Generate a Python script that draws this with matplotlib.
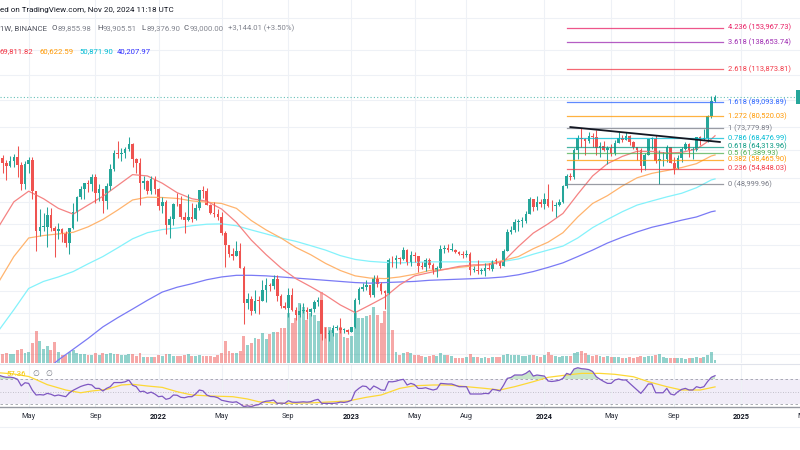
import numpy as np
import pandas as pd
import matplotlib
matplotlib.use('Agg')
import matplotlib.pyplot as plt
import matplotlib.transforms as mtransforms
from matplotlib.patches import Rectangle

plt.rcParams['font.family'] = ['Roboto', 'DejaVu Sans']

# BTCUSDT weekly candles (BINANCE), first bar = week of 2021-03-08
first_week = '2021-03-08'
opens = [50960, 59300, 57350, 55830, 58200, 59750, 56250, 49100, 56600, 58250,
         46430, 34700, 35700, 35800, 39100, 35500, 34700, 35300, 34250, 31800,
         35400, 39850, 44600, 47100, 49300, 48900, 51750, 46000, 47300, 43200,
         48200, 54650, 61500, 60850, 61300, 63300, 65500, 59000, 57300, 49400,
         50100, 46700, 50800, 47300, 41850, 43100, 36300, 37900, 42400, 42200,
         38400, 37700, 38400, 37800, 41260, 46820, 46400, 42150, 39700, 39450,
         38470, 34300, 31300, 29450, 29000, 29900, 26550, 20550, 21050, 19300,
         20850, 20800, 22580, 23300, 23170, 24440, 21500, 20000, 19800, 21800,
         19400, 18800, 19300, 19400, 19200, 19570, 20600, 20900, 16300, 16280,
         16450, 17100, 17100, 16800, 16840, 16600, 17130, 20880, 22700, 23080,
         23300, 21800, 24650, 23500, 22400, 22100, 28000, 27990, 28450, 28300,
         30300, 27600, 29200, 28900, 26800, 26750, 28100, 27100, 25900, 26500,
         30500, 30600, 30300, 30300, 29800, 29300, 29050, 29400, 26100, 26100,
         25850, 25850, 26550, 26250, 27950, 27900, 26850, 29950, 34500, 35000,
         37050, 37350, 37450, 39450, 43800, 41350, 43000, 42280, 43900, 41700,
         41600, 42000, 43000, 48300, 52100, 51700, 63100, 68900, 68400, 67200,
         69650, 69350, 63900, 64900, 63100, 63850, 61500, 66300, 68500, 67750,
         69650, 66650, 64250, 62700, 55850, 60800, 68150, 68250, 58100, 58700,
         58900, 64200, 57300, 54850, 59150, 63350, 65650, 62800, 62850, 69000,
         68000, 68750, 80400, 89855.98]
highs = [61844, 60633, 58420, 60200, 61200, 64854, 57526, 58000, 59600, 59600,
         46600, 40900, 39500, 41330, 41100, 36000, 36700, 35400, 34700, 35400,
         42600, 44800, 48150, 49400, 50500, 52920, 52900, 48850, 47350, 49200,
         56600, 62900, 67000, 63700, 64270, 69000, 66400, 59400, 59200, 51900,
         50300, 51900, 52100, 47550, 44450, 43500, 38900, 42650, 45850, 44750,
         39800, 45400, 42600, 42350, 46950, 48200, 47450, 42450, 42950, 40800,
         40000, 34850, 31300, 30650, 32200, 31750, 26900, 22000, 21550, 22500,
         21600, 24300, 24650, 23650, 25200, 25200, 21900, 20600, 22800, 22800,
         19950, 20400, 20500, 19950, 19700, 21000, 21450, 21000, 17200, 16800,
         17400, 17450, 18400, 17050, 16950, 17200, 21250, 23000, 23800, 24250,
         23450, 25250, 25100, 23900, 22600, 28500, 28850, 29200, 28800, 31000,
         30550, 30050, 29800, 28900, 27650, 28450, 28450, 27400, 26800, 31400,
         31250, 31500, 31800, 30400, 29950, 30000, 30250, 29700, 26800, 28150,
         26400, 27500, 27500, 28050, 28600, 27950, 30400, 35250, 35950, 37950,
         37950, 38400, 40250, 44700, 43850, 44750, 43800, 45900, 48970, 43580,
         42850, 43880, 48600, 52800, 53000, 64000, 70000, 73780, 68900, 71770,
         71300, 72800, 66900, 67200, 64750, 65500, 67700, 71950, 70000, 71950,
         70200, 67200, 64500, 63850, 61400, 68400, 69400, 70080, 62750, 61800,
         65000, 64500, 59800, 60650, 64150, 66500, 66000, 64500, 69400, 69500,
         73600, 81500, 93265, 93905.51]
lows = [49274, 53271, 50427, 55470, 55470, 51541, 47044, 47159, 53000, 43825,
        30000, 33400, 34800, 31000, 34800, 28800, 32700, 32100, 31000, 29300,
        35200, 37300, 43800, 43950, 46300, 46500, 42800, 43400, 39600, 40750,
        46900, 54000, 59500, 58000, 59400, 62300, 55600, 53250, 42000, 47100,
        45500, 45500, 45650, 40600, 39650, 34000, 32900, 36300, 41650, 38000,
        34300, 37450, 37150, 37550, 40500, 44200, 41900, 39200, 38550, 37700,
        33700, 26700, 28650, 28000, 28900, 26500, 17600, 19650, 18800, 19000,
        18900, 20750, 20700, 22400, 22650, 20750, 19800, 19600, 18500, 19300,
        18150, 18500, 19100, 18200, 18650, 19250, 20050, 15600, 15800, 15480,
        16050, 16800, 16500, 16400, 16300, 16550, 17100, 20400, 22300, 22500,
        21400, 21350, 23100, 21950, 19550, 21900, 26600, 26550, 27200, 28000,
        27100, 26950, 27600, 25800, 26350, 25850, 26500, 25350, 24800, 26250,
        29500, 29700, 29950, 29500, 29050, 28600, 28750, 25150, 25800, 25400,
        25350, 24900, 26100, 26000, 27200, 26550, 26800, 29900, 33950, 34500,
        34750, 35650, 36850, 39200, 40200, 40550, 41300, 40750, 41500, 40300,
        38550, 41800, 42500, 47700, 50520, 50900, 59000, 64500, 60780, 66400,
        64500, 60660, 59600, 62400, 56550, 60200, 60750, 66100, 66600, 67600,
        65100, 63400, 58400, 53500, 54260, 60630, 63450, 57100, 49000, 56100,
        57800, 57200, 52550, 54600, 57500, 62700, 59800, 58900, 62450, 65100,
        67450, 66800, 79700, 89376.90]
closes = [59300, 57350, 55830, 58200, 59750, 56250, 49100, 56600, 58250, 46430,
          34700, 35700, 35800, 39100, 35500, 34700, 35300, 34250, 31800, 35400,
          39850, 44600, 47100, 49300, 48900, 51750, 46000, 47300, 43200, 48200,
          54650, 61500, 60850, 61300, 63300, 65500, 59000, 57300, 49400, 50100,
          46700, 50800, 47300, 41850, 43100, 36300, 37900, 42400, 42200, 38400,
          37700, 38400, 37800, 41260, 46820, 46400, 42150, 39700, 39450, 38470,
          34300, 31300, 29450, 29000, 29900, 26550, 20550, 21050, 19300, 20850,
          20800, 22580, 23300, 23170, 24440, 21500, 20000, 19800, 21800, 19400,
          18800, 19300, 19400, 19200, 19570, 20600, 20900, 16300, 16280, 16450,
          17100, 17100, 16800, 16840, 16600, 17130, 20880, 22700, 23080, 23300,
          21800, 24650, 23500, 22400, 22100, 28000, 27990, 28450, 28300, 30300,
          27600, 29200, 28900, 26800, 26750, 28100, 27100, 25900, 26500, 30500,
          30600, 30300, 30300, 29800, 29300, 29050, 29400, 26100, 26100, 25850,
          25850, 26550, 26250, 27950, 27900, 26850, 29950, 34500, 35000, 37050,
          37350, 37450, 39450, 43800, 41350, 43000, 42280, 43900, 41700, 41600,
          42000, 43000, 48300, 52100, 51700, 63100, 68900, 68400, 67200, 69650,
          69350, 63900, 64900, 63100, 63850, 61500, 66300, 68500, 67750, 69650,
          66650, 64250, 62700, 55850, 60800, 68150, 68250, 58100, 58700, 58900,
          64200, 57300, 54850, 59150, 63350, 65650, 62800, 62850, 69000, 68000,
          68750, 80400, 89855.99, 93000.00]
# weekly volume, thousand BTC
volumes = [480, 360, 400, 360, 360, 520, 560, 400, 440, 800,
           1280, 880, 560, 680, 520, 840, 440, 320, 320, 440,
           520, 400, 360, 360, 320, 320, 400, 320, 400, 360,
           400, 360, 360, 320, 320, 360, 360, 280, 400, 240,
           240, 240, 240, 320, 280, 360, 360, 280, 280, 280,
           320, 360, 280, 280, 320, 280, 280, 280, 240, 320,
           400, 880, 480, 400, 400, 480, 1080, 720, 800, 1000,
           960, 1200, 960, 1160, 1240, 1240, 1400, 1400, 2000, 1600,
           1800, 2400, 2240, 1720, 2000, 1920, 1680, 2840, 1440, 1440,
           1320, 1200, 1440, 1040, 1000, 1080, 2000, 1800, 1800, 1880,
           1920, 2240, 1920, 1600, 2080, 4040, 1320, 440, 320, 400,
           440, 400, 320, 320, 280, 240, 280, 320, 280, 400,
           320, 320, 280, 200, 200, 200, 240, 360, 240, 240,
           200, 240, 200, 240, 240, 240, 320, 360, 320, 320,
           320, 280, 280, 320, 320, 280, 240, 320, 440, 320,
           280, 240, 280, 280, 280, 400, 440, 480, 400, 320,
           280, 320, 280, 240, 280, 240, 240, 240, 200, 200,
           240, 200, 240, 280, 240, 280, 280, 320, 360, 240,
           200, 200, 200, 200, 200, 160, 200, 200, 240, 200,
           240, 320, 440, 120]

# RSI 14 (one value per week) and its moving average (read at sample weeks)
rsi = [76, 74, 72.7, 73, 72, 69.5, 59, 64, 63, 52,
       44.4, 45, 44.4, 47, 45.6, 43, 44.4, 43, 41.7, 48,
       52, 55, 58, 60, 61.5, 60.5, 55, 55, 50.8, 55,
       57.7, 64.3, 64.3, 64.3, 65.5, 68.4, 60, 57.7, 49.7, 50.5,
       47, 49, 46, 41.7, 42.5, 37.5, 39, 44.4, 44, 40.7,
       40, 41.7, 41.7, 46, 52.4, 51, 44.4, 42, 41.7, 40,
       36, 34.8, 33.5, 32.7, 33.5, 30, 25.7, 27, 25.7, 28,
       29, 32.7, 34.5, 35, 36.4, 31, 31.5, 31, 35.3, 33,
       32.7, 33, 33.5, 33, 33.6, 36, 37.5, 31, 31, 31,
       31, 31.5, 33, 32.5, 33.6, 36, 50, 55, 58.8, 58,
       52.4, 58.8, 56, 52.4, 52, 65.7, 65.5, 66.5, 68.4, 69.5,
       60.4, 63, 61, 55, 55, 56, 54, 52.4, 54, 63,
       62.5, 62, 62, 60, 57.7, 57.7, 57.7, 46, 46, 46,
       46, 47, 46.5, 53.4, 52.5, 50.8, 60, 71, 72.5, 76.4,
       76.4, 76.4, 79, 83.3, 74.7, 76.4, 75.5, 74.7, 66.8, 66,
       66.8, 68, 71, 79, 77, 86, 88, 86.5, 86, 85,
       82, 73.6, 69.5, 66, 63, 63, 68.4, 70, 68.4, 68.4,
       63, 57.7, 52, 47, 54, 62, 62, 48, 48, 48,
       55, 46, 44.4, 49.7, 53.4, 55, 52.4, 52.4, 57.7, 56,
       57.7, 66, 72.7, 75.3]
rsi_ma_weeks = [0, 4, 8, 10, 13, 18, 22, 25, 29, 33, 36, 40, 44, 48, 52, 57, 63, 67, 70, 76,
                85, 90, 94, 99, 103, 108, 112, 117, 121, 126, 131, 135, 139, 144, 148, 153,
                157, 162, 166, 171, 175, 180, 184, 189, 193]
rsi_ma = [80, 78, 74, 69, 61, 52.4, 48, 50.8, 53.4, 60.4, 61.5, 58.8, 56.6, 49.7, 44.4, 42.8,
          41.7, 38, 33.6, 31, 32, 33.6, 34.7, 40.7, 44.4, 55, 59.2, 60.4, 60.4, 57.7, 55,
          52.4, 57.7, 65.7, 72.7, 76.4, 79, 79, 77.5, 73.6, 65.7, 57.7, 52.4, 52.4, 57.36]

# moving averages, read every 4 weeks (+ last bar)
ma_weeks = list(range(0, 193, 4)) + [193]
ma_red = [36000, 43000, 46500, 44000, 41000, 39300, 42000, 44800, 48500, 52500,
          52000, 49300, 46000, 44000, 43200, 40800, 37000, 32500, 29200, 26500,
          24500, 23100, 21700, 20200, 19100, 20200, 21400, 23400, 25000, 25600,
          26200, 26800, 27100, 27100, 27800, 31000, 34200, 36600, 39500, 45500,
          52000, 56900, 60000, 62300, 62200, 61500, 61800, 63300, 68100, 69811.82]
ma_orange = [24000, 28800, 33000, 33600, 34000, 34400, 35800, 37800, 40500, 43600,
             44500, 44400, 44100, 43300, 42900, 42500, 41000, 37500, 35000, 33000,
             30800, 29200, 27400, 26000, 25000, 24600, 24500, 24800, 25300, 26000,
             26200, 26600, 26900, 27300, 28000, 28800, 30500, 32000, 34300, 38500,
             42500, 45000, 48300, 51300, 53000, 54100, 55300, 56900, 60200, 60622.59]
ma_cyan = [16800, 19500, 22800, 24000, 24800, 25800, 27300, 28800, 30700, 32800,
           34300, 35100, 35500, 36100, 36500, 36600, 36100, 35000, 34000, 33000,
           32200, 31200, 30200, 29000, 28200, 27800, 27600, 27500, 27600, 27700,
           27700, 27700, 27700, 27700, 27800, 28300, 29300, 30200, 31100, 33000,
           35600, 37800, 40000, 42000, 43300, 44600, 45800, 47700, 50500, 50871.90]
ma_blue = [np.nan, np.nan, np.nan, 12300, 13500, 14600, 15800, 17200, 18400, 19600,
           20900, 22200, 23000, 23600, 24300, 24800, 25100, 25100, 25000, 24800,
           24600, 24400, 24200, 24000, 23800, 23700, 23800, 23900, 24000, 24200,
           24300, 24400, 24500, 24600, 24800, 25200, 25800, 26600, 27500, 28800,
           30200, 31800, 33200, 34500, 35700, 36600, 37600, 38500, 40000, 40207.97]

# fibonacci extension drawn on the chart
fib_ratios = ['0', '0.236', '0.382', '0.5', '0.618', '0.786', '1', '1.272', '1.618', '2.618', '3.618', '4.236']
fib_prices = [48999.96, 54848.03, 58465.90, 61389.93, 64313.96, 68476.99, 73779.89, 80520.03,
              89093.89, 113873.81, 138653.74, 153967.73]
fib_colors = ['#787b86', '#f23645', '#ff9800', '#4caf50', '#089981', '#00bcd4', '#787b86',
              '#ff9800', '#2962ff', '#f23645', '#9c27b0', '#e91e63']
fib_span = [153.1, 195.1]
trend_weeks = [154.0, 194.3]
trend_prices = [74400, 66700]

tick_dates = ['2021-05-03', '2021-09-06', '2022-01-03', '2022-05-02', '2022-09-05', '2023-01-02',
              '2023-05-01', '2023-08-07', '2024-01-01', '2024-05-06', '2024-09-02', '2025-01-06',
              '2025-05-05']
tick_labels = ['May', 'Sep', '2022', 'May', 'Sep', '2023', 'May', 'Aug', '2024', 'May', 'Sep', '2025', 'May']

grid_prices = [166000, 131000, 109000, 90700, 74400, 62900, 51200, 42900, 36600, 31300,
               26400, 22300, 19100, 16400, 14100]

up_c, dn_c = '#26a69a', '#ef5350'
grid_c = '#eef1f6'

W, H = 800, 450
weeks = np.arange(len(closes))
o = np.array(opens); h = np.array(highs); l = np.array(lows); c = np.array(closes)
up = c >= o
t0 = pd.Timestamp(first_week)
tick_x = [(pd.Timestamp(d) - t0).days / 7 for d in tick_dates]

fig = plt.figure(figsize=(8, 4.5), dpi=100)


def rect(top, bottom):
    return [0, 1 - bottom / H, 1, (bottom - top) / H]


xlim = (0.27, 215.9)
ylim = (13200, 188800)
main_rect = rect(0, 363)

# background grid
bg = fig.add_axes(main_rect, label='bg')
bg.set_yscale('log')
bg.set_xlim(xlim)
bg.set_ylim(ylim)
bg.axis('off')
for p in grid_prices:
    bg.axhline(p, color=grid_c, lw=0.8)
for t in tick_x:
    bg.axvline(t, color=grid_c, lw=0.8)

# volume
vax = fig.add_axes(main_rect, label='vol')
vax.set_xlim(xlim)
vax.set_ylim(0, 363 * 40)
vax.axis('off')
vax.bar(weeks, volumes, width=0.78, color=np.where(up, up_c, dn_c), alpha=0.5, linewidth=0)

# price
ax = fig.add_axes(main_rect, label='price')
ax.set_yscale('log')
ax.set_xlim(xlim)
ax.set_ylim(ylim)
ax.axis('off')

ax.axhline(closes[-1], color=up_c, lw=0.8, ls=(0, (1, 2)), alpha=0.7)

for mw, mv, col in [(ma_weeks, ma_blue, '#7a7af5'), (ma_weeks, ma_cyan, '#84f2fb'),
                    (ma_weeks, ma_orange, '#ffb46e'), (ma_weeks, ma_red, '#f58383')]:
    ax.plot(mw, mv, color=col, lw=0.9)

ccol = np.where(up, up_c, dn_c)
ax.vlines(weeks, l, h, colors=ccol, lw=0.75)
body_lo = np.minimum(o, c)
body_h = np.maximum(np.abs(c - o), body_lo * 0.006)
ax.bar(weeks, body_h, bottom=body_lo, width=0.7, color=ccol, linewidth=0)

for r, p, col in zip(fib_ratios, fib_prices, fib_colors):
    ax.plot(fib_span, [p, p], color=col, lw=0.9, alpha=0.75)
    ax.text(fib_span[1] + 1.4, p, f'{r} ({p:,.2f})', color=col, fontsize=5.4, va='center', ha='left')

ax.plot(trend_weeks, trend_prices, color='#131722', lw=1.3)

# RSI pane
rax = fig.add_axes(rect(364, 407), label='rsi')
rax.set_xlim(xlim)
rax.set_ylim(25.2, 94)
rax.axis('off')
for t in tick_x:
    rax.axvline(t, color=grid_c, lw=0.8)
rax.axhspan(30, 70, color='#7e57c2', alpha=0.1, lw=0)
rax.axhline(70, color='#787b86', lw=0.6, ls=(0, (3, 3)), alpha=0.7)
rax.axhline(50, color='#787b86', lw=0.6, ls=(0, (1, 2)), alpha=0.5)
rax.axhline(30, color='#787b86', lw=0.6, ls=(0, (3, 3)), alpha=0.7)
rv = np.array(rsi)
rax.fill_between(weeks, rv, 70, where=rv >= 70, interpolate=True, color='#4caf50', alpha=0.3, lw=0)
rax.fill_between(weeks, rv, 30, where=rv <= 30, interpolate=True, color='#f23645', alpha=0.2, lw=0)
rax.plot(rsi_ma_weeks, rsi_ma, color='#fdd835', lw=0.9)
rax.plot(weeks, rv, color='#7e57c2', lw=0.9)

# pane borders
fig.add_artist(plt.Line2D([0, 1], [1 - 363.5 / H] * 2, color='#e0e3eb', lw=0.8))
fig.add_artist(plt.Line2D([0, 1], [1 - 407 / H] * 2, color='#9598a1', lw=1.0))
fig.add_artist(plt.Line2D([0, 1], [1 - 427 / H] * 2, color='#eef1f6', lw=0.8))

# time axis labels
tr = mtransforms.blended_transform_factory(rax.transData, fig.transFigure)
for t, lab in zip(tick_x, tick_labels):
    bold = lab.isdigit()
    rax.text(t, 1 - 417 / H, lab, transform=tr, ha='center', va='center', fontsize=5.3,
             color='#131722' if bold else '#2a2e39', fontweight='bold' if bold else 'normal',
             clip_on=False)

# price tag on the right edge
fig.add_artist(Rectangle((796 / W, 1 - 104 / H), 5 / W, 14 / H, transform=fig.transFigure,
                         color=up_c, lw=0))


def ftext(x, y, s, col, size=5.6, **kw):
    fig.text(x / W, 1 - y / H, s, color=col, va='center', ha='left', fontsize=size, **kw)


ftext(0, 10, 'ed on TradingView.com, Nov 20, 2024 11:18 UTC', '#131722', size=5.8)
val_c = '#82858f'
ftext(0, 28, '1W, BINANCE', '#50535e')
for x, letter, v in [(52, 'O', opens[-1]), (97, 'H', highs[-1]), (141, 'L', lows[-1]), (184, 'C', closes[-1])]:
    ftext(x, 28, letter, '#50535e')
    ftext(x + 5.5, 28, f'{v:,.2f}', val_c)
chg = closes[-1] - closes[-2]
ftext(228, 28, f'+{chg:,.2f} (+{chg / closes[-2] * 100:.2f}%)', val_c)

for x, v, col in [(0, ma_red[-1], '#f23645'), (40, ma_orange[-1], '#ff9800'),
                  (79, ma_cyan[-1], '#00bcd4'), (117, ma_blue[-1], '#2e2eff')]:
    ftext(x, 51, f'{v:,.2f}', col)

ftext(6, 373.5, f'{rsi_ma[-1]:.2f}', '#f5c400')
ftext(32, 373.5, '\u2205', '#787b86')
ftext(45, 373.5, '\u2205', '#787b86')

fig.savefig('out.png', dpi=100)
